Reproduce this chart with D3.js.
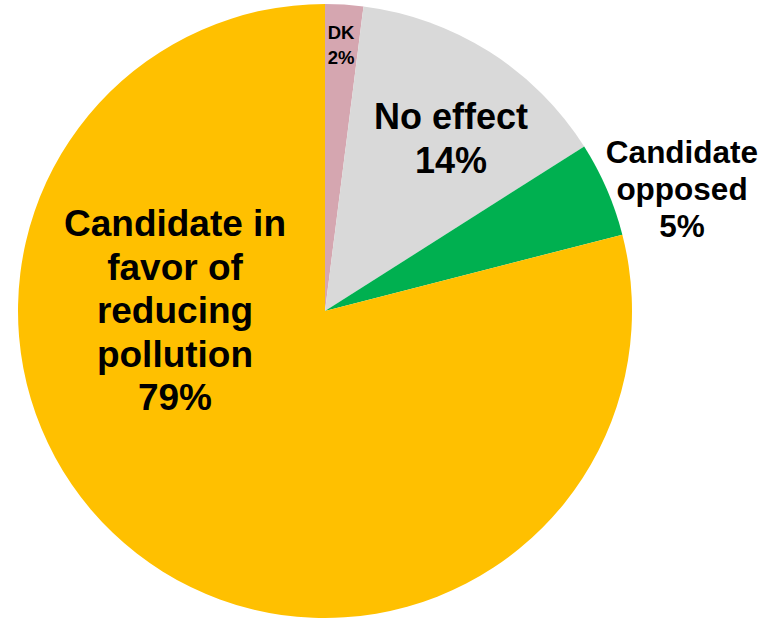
<!DOCTYPE html>
<html><head><meta charset="utf-8">
<script src="https://cdn.jsdelivr.net/npm/d3@7"></script>
<style>body{margin:0;background:#fff}svg{display:block}</style>
</head><body>
<script>
const categories = ["DK", "No effect", "Candidate opposed", "Candidate in favor of reducing pollution"];
const values = [2, 14, 5, 79];
const colors = ["#D5A6B0", "#D9D9D9", "#00B050", "#FFC000"];
const labelLines = [
  ["DK", "2%"],
  ["No effect", "14%"],
  ["Candidate", "opposed", "5%"],
  ["Candidate in", "favor of", "reducing", "pollution", "79%"]
];

const W = 765, H = 619;
const cx = 325, cy = 311, R = 307;
const svg = d3.select("body").append("svg").attr("width", W).attr("height", H);
const g = svg.append("g").attr("transform", `translate(${cx},${cy})`);

const pie = d3.pie().sort(null).value(d => d)(values);
const arc = d3.arc().innerRadius(0).outerRadius(R);
g.selectAll("path").data(pie).join("path")
  .attr("d", arc).attr("fill", (d, i) => colors[i]);

// label layout
const labelPos = [
  {x: 341, y: 39, size: 18.5, lh: 25},
  {x: 451, y: 129, size: 36, lh: 44},
  {x: 682, y: 163, size: 31.5, lh: 37},
  {x: 175, y: 236, size: 37, lh: 43.6}
];
labelLines.forEach((lines, i) => {
  const p = labelPos[i];
  const t = svg.append("text")
    .attr("text-anchor", "middle")
    .attr("font-family", "Liberation Sans, Arial, sans-serif")
    .attr("font-weight", "bold")
    .attr("font-size", p.size)
    .attr("fill", "#000");
  lines.forEach((l, j) => {
    t.append("tspan").attr("x", p.x).attr("y", p.y + j * p.lh).text(l);
  });
});
</script>
</body></html>
